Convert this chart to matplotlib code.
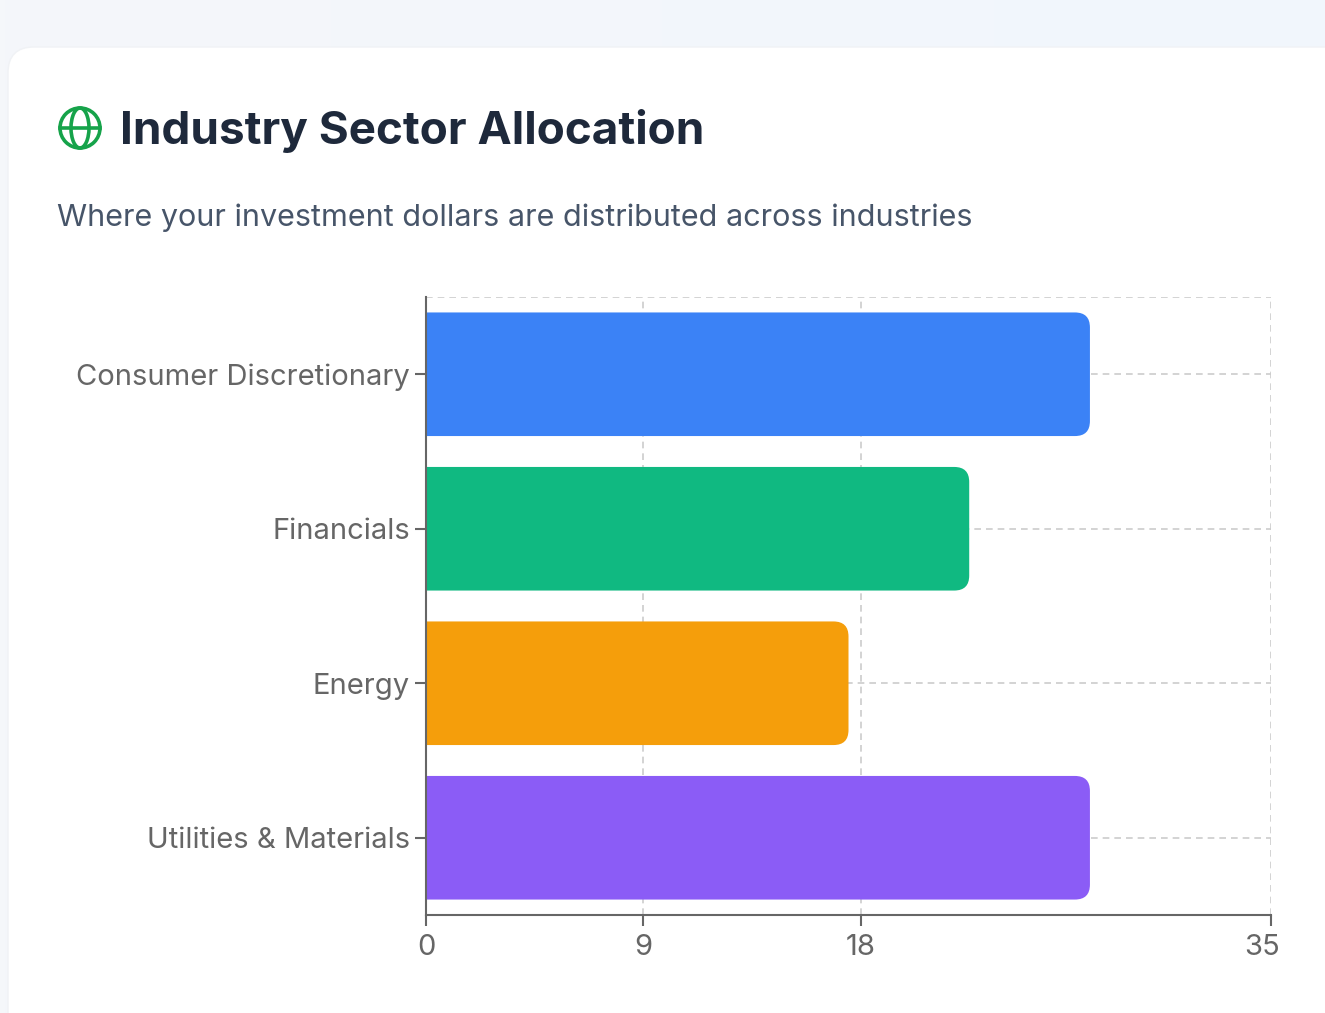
import numpy as np
import matplotlib
matplotlib.use("Agg")
import matplotlib.pyplot as plt
from matplotlib.path import Path
from matplotlib.patches import PathPatch, FancyBboxPatch, Circle, Ellipse
from matplotlib.transforms import ScaledTranslation

plt.rcParams['font.family'] = ['Inter', 'DejaVu Sans']

# data
sectors = ["Consumer Discretionary", "Financials", "Energy", "Utilities & Materials"]
values = [27.5, 22.5, 17.5, 27.5]
colors = ["#3b82f6", "#10b981", "#f59e0b", "#8b5cf6"]
xticks = [0, 9, 18, 35]

W, H = 1325, 1013
fig = plt.figure(figsize=(W / 100, H / 100), dpi=100)

# background + card, in pixel coordinates
bg = fig.add_axes([0, 0, 1, 1])
bg.set_xlim(0, W)
bg.set_ylim(H, 0)
bg.set_axis_off()
grad = np.linspace(0, 1, 256)[None, :]
cmap = matplotlib.colors.LinearSegmentedColormap.from_list("bg", ["#f5f7fa", "#f1f6fd"])
bg.imshow(grad, extent=(0, W, H, 0), cmap=cmap, aspect='auto', zorder=0)
card = FancyBboxPatch((8, 47), W + 40, H + 40, boxstyle="round,pad=0,rounding_size=26",
                      facecolor="white", edgecolor="#f0f2f5", linewidth=1, zorder=1)
bg.add_patch(card)

# globe icon
gc = "#16a34a"
bg.add_patch(Circle((80, 128), 20, fill=False, edgecolor=gc, linewidth=2.6, zorder=2))
bg.add_patch(Ellipse((80, 128), 18, 40, fill=False, edgecolor=gc, linewidth=2.6, zorder=2))
bg.plot([60, 100], [128, 128], color=gc, linewidth=2.6, zorder=2)

bg.text(120, 131, "Industry Sector Allocation", fontsize=33, fontweight='bold',
        color="#1e293b", va='center', ha='left', zorder=3)
bg.text(57, 218, "Where your investment dollars are distributed across industries",
        fontsize=22, color="#475569", va='center', ha='left', zorder=3)

# chart
left, right, top, bottom = 426, 1271, 297, 915
ax = fig.add_axes([left / W, (H - bottom) / H, (right - left) / W, (bottom - top) / H])
ax.set_facecolor("none")
ax.set_xlim(0, 35)
ax.set_ylim(len(sectors) - 0.5, -0.5)

grid_kw = dict(color="#cccccc", linewidth=1.2, linestyle=(0, (4, 3)), zorder=0)
for i in range(len(sectors)):
    ax.axhline(i, **grid_kw)
ax.axhline(-0.5, **grid_kw)
for t in xticks[1:]:
    ax.axvline(t, **grid_kw)

# rounded right corners
px_x = (right - left) / 35.0
px_y = (bottom - top) / len(sectors)
r = 15
rx, ry = r / px_x, r / px_y
bh = 0.8
for i, (v, c) in enumerate(zip(values, colors)):
    y0, y1 = i - bh / 2, i + bh / 2
    verts = [(0, y0), (v - rx, y0), (v, y0), (v, y0 + ry), (v, y1 - ry),
             (v, y1), (v - rx, y1), (0, y1), (0, y0)]
    codes = [Path.MOVETO, Path.LINETO, Path.CURVE3, Path.CURVE3, Path.LINETO,
             Path.CURVE3, Path.CURVE3, Path.LINETO, Path.CLOSEPOLY]
    ax.add_patch(PathPatch(Path(verts, codes), facecolor=c, edgecolor='none', zorder=2))

for s in ['top', 'right']:
    ax.spines[s].set_visible(False)
for s in ['left', 'bottom']:
    ax.spines[s].set_color("#666666")
    ax.spines[s].set_linewidth(1.5)
    ax.spines[s].set_zorder(3)

ax.set_yticks(range(len(sectors)))
ax.set_yticklabels(sectors)
ax.set_xticks(xticks)
ax.set_xticklabels([str(t) for t in xticks])
ax.tick_params(axis='y', length=8, width=1.5, color="#666666", labelcolor="#666666",
               labelsize=21, pad=3.5)
ax.tick_params(axis='x', length=8, width=1.5, color="#666666", labelcolor="#666666",
               labelsize=21, pad=6)
lab = ax.get_xticklabels()[-1]
lab.set_transform(lab.get_transform() + ScaledTranslation(-9 / 100, 0, fig.dpi_scale_trans))

fig.savefig("out.png", dpi=100)
